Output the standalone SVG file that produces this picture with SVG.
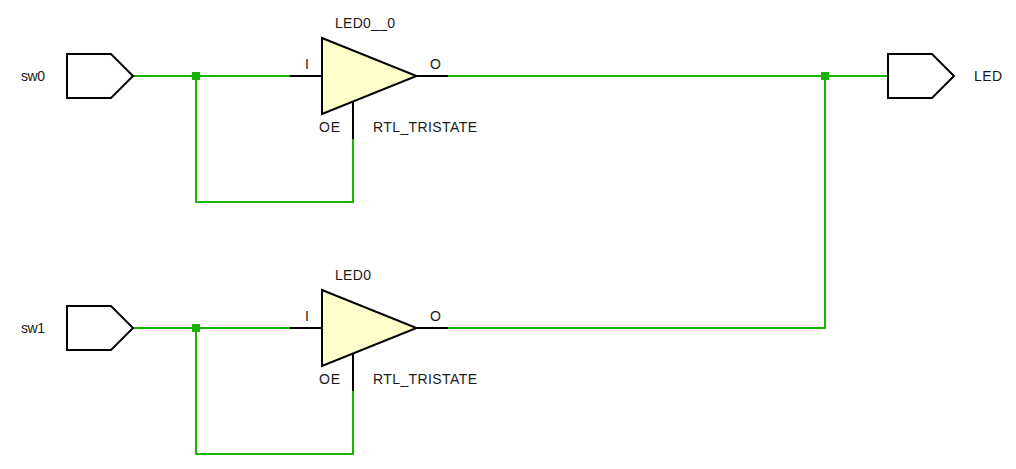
<svg xmlns="http://www.w3.org/2000/svg" width="1016" height="469" viewBox="0 0 1016 469">
<defs>
<style>
text{font-family:"Liberation Sans",Arial,sans-serif;font-size:14px;fill:#1a1a1a}
.w{fill:none;stroke:#18b400;stroke-width:2;shape-rendering:crispEdges}
.j{fill:#18b400;shape-rendering:crispEdges}
.p{fill:#fff;stroke:#000;stroke-width:2;stroke-linejoin:miter}
.t{fill:#ffffcc;stroke:#000;stroke-width:2;stroke-linejoin:miter}
.s{fill:none;stroke:#000;stroke-width:2;shape-rendering:crispEdges}
</style>
</defs>
<rect width="1016" height="469" fill="#fff"/>
<g id="connectors">
<path class="w" d="M133 76H290M448 76H888M196 76V202H353V139"/>
<path class="w" d="M133 328H290M448 328H825V76M196 328V454H353V391"/>
<rect class="j" x="192" y="72" width="8" height="8"/>
<rect class="j" x="821" y="72" width="8" height="8"/>
<rect class="j" x="192" y="324" width="8" height="8"/>
</g>
<g id="sw0">
<path class="p" d="M67 54H111L133 76L111 98H67Z"/>
<text x="21" y="81" textLength="24">sw0</text>
</g>
<g id="sw1">
<path class="p" d="M67 306H111L133 328L111 350H67Z"/>
<text x="21" y="333" textLength="24">sw1</text>
</g>
<g id="LED">
<path class="p" d="M888 54H932L954 76L932 98H888Z"/>
<text x="974" y="81" textLength="28">LED</text>
</g>
<g id="LED0__0">
<path class="s" d="M290 76H322M416 76H448M353 101V139"/>
<path class="t" d="M322 38L416.500 76L322 114Z"/>
<text x="335" y="28" textLength="60">LED0__0</text>
<text x="305" y="69">I</text>
<text x="430" y="69">O</text>
<text x="319" y="132" textLength="21">OE</text>
<text x="373" y="132" textLength="104">RTL_TRISTATE</text>
</g>
<g id="LED0">
<path class="s" d="M290 328H322M416 328H448M353 353V391"/>
<path class="t" d="M322 290L416.500 328L322 366Z"/>
<text x="335" y="280" textLength="36">LED0</text>
<text x="305" y="321">I</text>
<text x="430" y="321">O</text>
<text x="319" y="384" textLength="21">OE</text>
<text x="373" y="384" textLength="104">RTL_TRISTATE</text>
</g>
</svg>
